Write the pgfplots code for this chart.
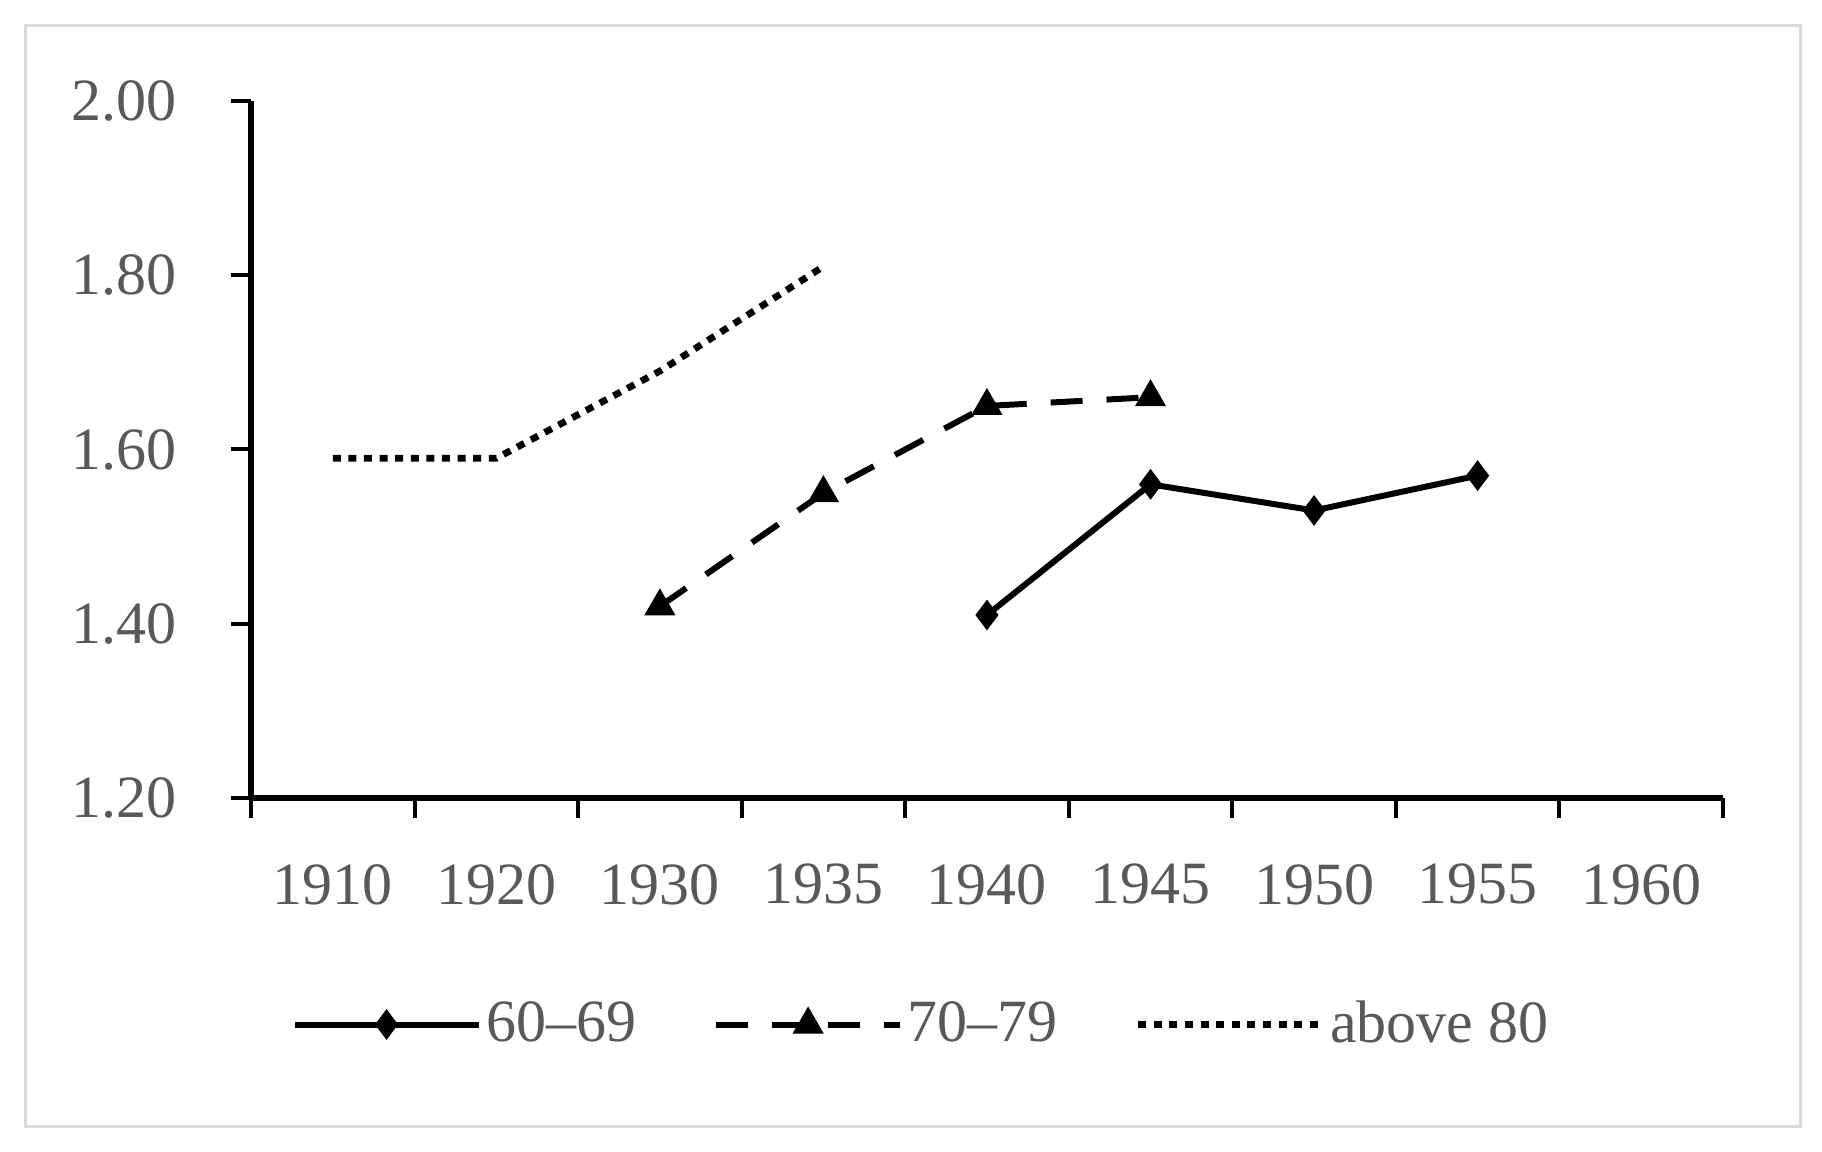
\documentclass[border=0pt]{standalone}
\usepackage{pgfplots}
\pgfplotsset{compat=1.18}
\usepackage{fontspec}
\setmainfont{Liberation Serif}
\definecolor{txtgray}{HTML}{595959}
\definecolor{framegray}{HTML}{D9D9D9}
\begin{document}
\begin{tikzpicture}
\begin{axis}[
  scale only axis, width=368pt, height=174.25pt,
  at={(0,0)}, anchor=south west,
  xmin=0, xmax=9, ymin=1.2, ymax=2.0,
  axis lines*=left,
  x axis line style={line width=1.6pt, -},
  y axis line style={line width=1.3pt, -},
  tick align=outside,
  xtick={0.5,1.5,...,8.5},
  xticklabels={1910,1920,1930,1935,1940,1945,1950,1955,1960},
  major x tick style={draw=none},
  minor xtick={0,1,...,9},
  minor x tick style={line width=1pt, black},
  minor tick length=5pt,
  ytick={1.2,1.4,1.6,1.8,2.0},
  major y tick style={line width=1pt, black},
  major tick length=5pt,
  /pgf/number format/fixed,
  /pgf/number format/fixed zerofill,
  /pgf/number format/precision=2,
  /pgf/number format/assume math mode=true,
  ticklabel style={font=\fontsize{15}{18}\selectfont, text=txtgray},
  yticklabel style={anchor=east, xshift=-10pt},
  xticklabel style={anchor=north, yshift=-8pt},
  clip=false,
  legend columns=3,
  legend style={at={(0.027,-0.325)}, anchor=west, draw=none, fill=none, inner sep=0pt,
    font=\fontsize{15}{18}\selectfont, text=txtgray,
    nodes={inner sep=1.2pt},
    /tikz/every even column/.append style={column sep=18pt}},
  legend image code/.code={\draw[#1, mark repeat=2, mark phase=2] plot coordinates {(0pt,0pt) (23pt,0pt) (46pt,0pt)};},
]
\addplot[black, line width=1.5pt, mark=diamond*, mark size=2.6pt, mark options={solid}]
  coordinates {(4.5,1.41) (5.5,1.56) (6.5,1.53) (7.5,1.57)};
\addlegendentry{60–69}
\addplot[black, line width=1.5pt, dash pattern=on 8pt off 6pt, mark=triangle*, mark size=3pt, mark options={solid}]
  coordinates {(2.5,1.42) (3.5,1.55) (4.5,1.65) (5.5,1.66)};
\addlegendentry{70–79}
\addplot[black, line width=1.7pt, dash pattern=on 2pt off 1.9pt, mark=none]
  coordinates {(0.5,1.59) (1.5,1.59) (2.5,1.69) (3.5,1.81)};
\addlegendentry{above 80}
\end{axis}
\draw[framegray, line width=0.75pt] (-56.25pt,-82.25pt) rectangle (387.25pt,193pt);
\pgfresetboundingbox
\path (-62.75pt,-88.5pt) rectangle (392.75pt,199.5pt);
\end{tikzpicture}
\end{document}
